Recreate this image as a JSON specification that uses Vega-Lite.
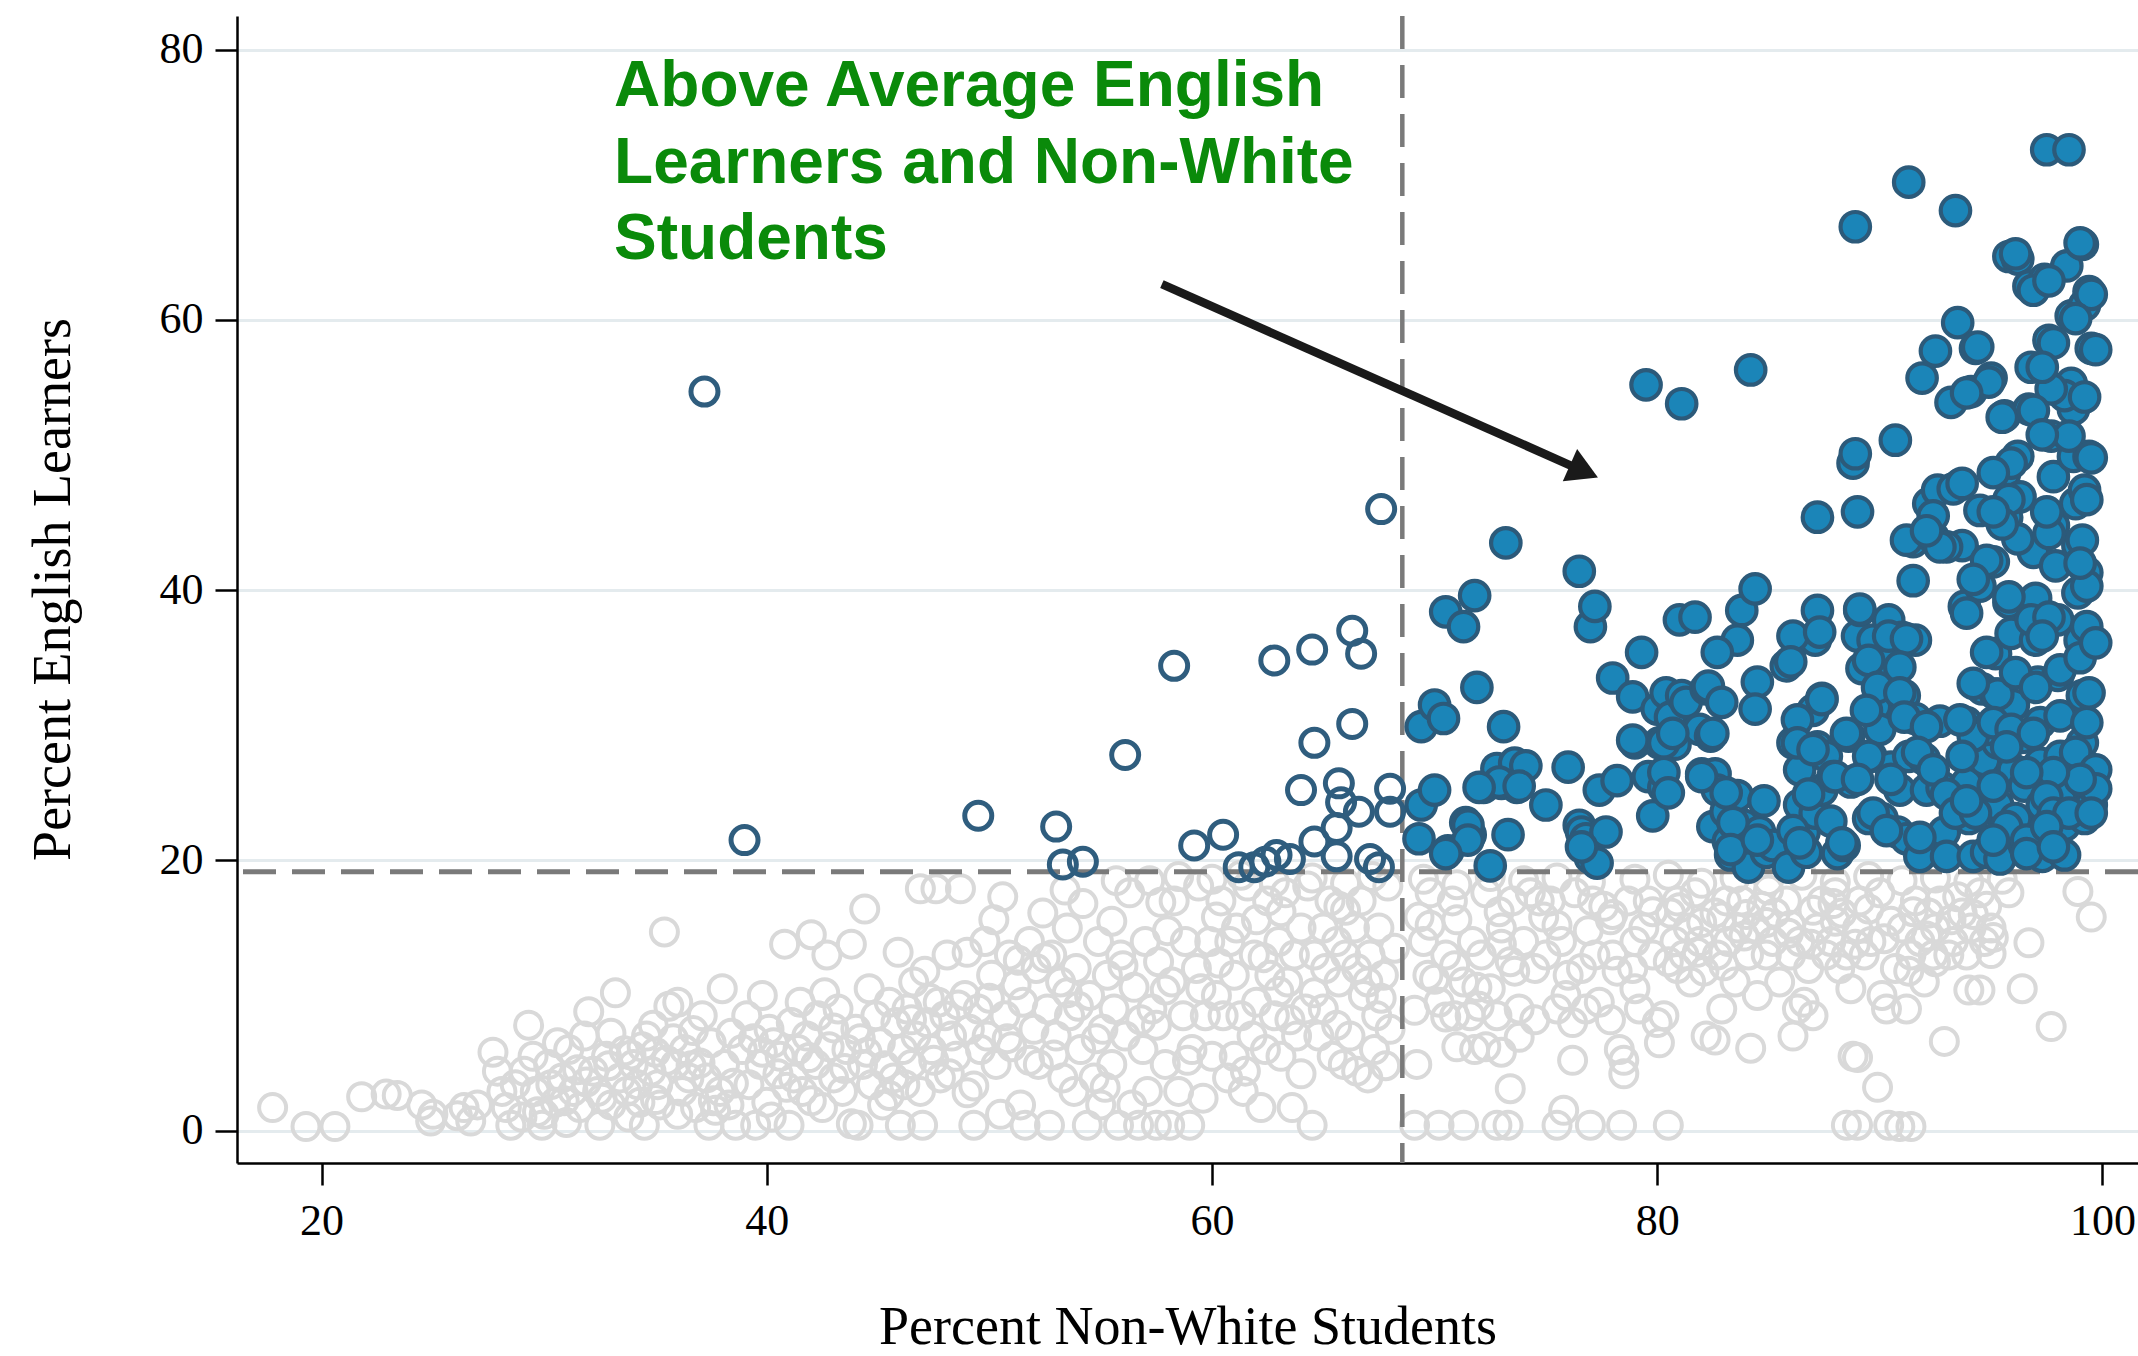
{
"$schema": "https://vega.github.io/schema/vega-lite/v6.json",
"width": 1901, "height": 1147,
"autosize": {"type": "none"},
"padding": {"left": 237, "top": 16, "right": 0, "bottom": 193},
"background": "white",
"config": {"view": {"stroke": null}},
"datasets": {
"pts": [
{"x":17.8,"y":1.7},{"x":19.3,"y":0.3},{"x":20.6,"y":0.3},{"x":21.8,"y":2.5},{"x":22.9,"y":2.7},{"x":23.4,"y":2.6},{"x":24.5,"y":1.9},{"x":24.9,"y":0.7},{"x":25,"y":1.2},{"x":26.1,"y":1.1},{"x":26.4,"y":1.7},{"x":26.7,"y":0.7},{"x":27,"y":1.9},{"x":27.7,"y":5.8},{"x":27.9,"y":4.4},{"x":28.1,"y":2.9},{"x":28.3,"y":1.7},{"x":28.5,"y":0.4},{"x":28.7,"y":3.4},{"x":29.1,"y":4.4},{"x":29.3,"y":7.8},{"x":29.6,"y":2.9},{"x":29.7,"y":1.4},{"x":29.9,"y":0.4},{"x":30.2,"y":4.9},{"x":30.3,"y":3.4},{"x":30.5,"y":2.1},{"x":30.8,"y":3.9},{"x":31.1,"y":6},{"x":31.3,"y":2.9},{"x":31.6,"y":1.7},{"x":31.8,"y":7},{"x":32,"y":8.8},{"x":32.2,"y":4.4},{"x":32.4,"y":2.9},{"x":32.5,"y":0.4},{"x":32.8,"y":5.5},{"x":33,"y":1.9},{"x":33.2,"y":10.2},{"x":33.4,"y":3.9},{"x":33.6,"y":5.9},{"x":33.7,"y":2.9},{"x":34,"y":4.9},{"x":34.2,"y":3.4},{"x":34.3,"y":2.1},{"x":34.5,"y":0.4},{"x":34.6,"y":7},{"x":34.8,"y":4.4},{"x":35,"y":5.8},{"x":35.1,"y":3.4},{"x":35.2,"y":1.9},{"x":35.4,"y":14.7},{"x":35.6,"y":9.2},{"x":35.9,"y":4.9},{"x":36,"y":9.5},{"x":36.2,"y":2.9},{"x":36.3,"y":6},{"x":36.5,"y":3.9},{"x":36.8,"y":1.7},{"x":37.1,"y":8.5},{"x":37.3,"y":3.9},{"x":37.4,"y":0.4},{"x":37.5,"y":6.5},{"x":37.9,"y":2.9},{"x":38.1,"y":4.9},{"x":38.3,"y":1.9},{"x":38.6,"y":0.4},{"x":38.9,"y":6},{"x":39.1,"y":8.5},{"x":39.2,"y":3.4},{"x":39.5,"y":0.4},{"x":39.7,"y":4.9},{"x":40,"y":2.1},{"x":40.1,"y":7.5},{"x":40.3,"y":6.5},{"x":40.6,"y":5.5},{"x":40.8,"y":13.8},{"x":41,"y":0.4},{"x":41.1,"y":8},{"x":41.2,"y":3.9},{"x":41.4,"y":6},{"x":41.6,"y":2.9},{"x":41.8,"y":7},{"x":42,"y":14.5},{"x":42.2,"y":4.9},{"x":42.3,"y":8.5},{"x":42.5,"y":1.7},{"x":42.7,"y":13},{"x":42.8,"y":6.2},{"x":43,"y":3.9},{"x":43.2,"y":9},{"x":43.4,"y":2.9},{"x":43.6,"y":6},{"x":43.8,"y":13.8},{"x":44,"y":7.5},{"x":44.1,"y":0.4},{"x":44.3,"y":4.9},{"x":44.4,"y":16.4},{"x":44.6,"y":10.5},{"x":44.7,"y":3.4},{"x":44.9,"y":8.5},{"x":45.1,"y":6.5},{"x":45.2,"y":1.9},{"x":45.5,"y":9.5},{"x":45.7,"y":3.9},{"x":45.8,"y":8},{"x":46,"y":0.4},{"x":46.1,"y":6},{"x":46.3,"y":9},{"x":46.5,"y":4.9},{"x":46.6,"y":11},{"x":46.7,"y":7},{"x":46.9,"y":2.9},{"x":47.1,"y":11.8},{"x":47.2,"y":8},{"x":47.4,"y":6},{"x":47.6,"y":17.9},{"x":47.7,"y":9.5},{"x":47.8,"y":3.9},{"x":48,"y":8.5},{"x":48.1,"y":13},{"x":48.3,"y":7},{"x":48.5,"y":5.5},{"x":48.7,"y":17.9},{"x":48.9,"y":10},{"x":49,"y":13.2},{"x":49.1,"y":7.5},{"x":49.3,"y":0.4},{"x":49.5,"y":9},{"x":49.6,"y":6},{"x":49.8,"y":14},{"x":49.9,"y":7},{"x":50.1,"y":11.5},{"x":50.3,"y":4.9},{"x":50.6,"y":17.3},{"x":50.7,"y":8.5},{"x":50.9,"y":13},{"x":51,"y":6.2},{"x":51.2,"y":10.8},{"x":51.4,"y":1.9},{"x":51.5,"y":9.5},{"x":51.6,"y":0.4},{"x":51.8,"y":14},{"x":52,"y":7.5},{"x":52.1,"y":12},{"x":52.2,"y":4.9},{"x":52.4,"y":16.1},{"x":52.6,"y":9},{"x":52.7,"y":0.4},{"x":52.8,"y":13},{"x":53,"y":7},{"x":53.2,"y":11},{"x":53.3,"y":3.9},{"x":53.5,"y":15},{"x":53.6,"y":8.5},{"x":53.8,"y":2.9},{"x":53.9,"y":12},{"x":54.1,"y":6},{"x":54.2,"y":16.8},{"x":54.4,"y":0.4},{"x":54.5,"y":10},{"x":54.7,"y":3.9},{"x":54.9,"y":14},{"x":55,"y":1.9},{"x":55.1,"y":7.5},{"x":55.3,"y":11.5},{"x":55.5,"y":4.9},{"x":55.6,"y":9},{"x":55.8,"y":0.4},{"x":55.9,"y":13},{"x":56.1,"y":7},{"x":56.3,"y":17.6},{"x":56.4,"y":1.9},{"x":56.5,"y":10.6},{"x":56.7,"y":0.4},{"x":56.9,"y":6},{"x":57,"y":14},{"x":57.1,"y":2.9},{"x":57.3,"y":9},{"x":57.5,"y":0.4},{"x":57.6,"y":12.5},{"x":57.7,"y":16.9},{"x":57.9,"y":4.9},{"x":58.1,"y":0.4},{"x":58.2,"y":11},{"x":58.3,"y":17},{"x":58.5,"y":2.9},{"x":58.7,"y":8.5},{"x":58.8,"y":14},{"x":59,"y":0.4},{"x":59.1,"y":6},{"x":59.3,"y":12},{"x":59.4,"y":18.1},{"x":59.6,"y":2.4},{"x":59.7,"y":8.5},{"x":59.9,"y":14},{"x":60,"y":5.5},{"x":60.2,"y":10},{"x":60.4,"y":17},{"x":60.5,"y":8.5},{"x":60.7,"y":3.9},{"x":60.8,"y":14},{"x":61,"y":11.5},{"x":61.1,"y":15},{"x":61.3,"y":8.5},{"x":61.4,"y":2.9},{"x":61.6,"y":18.1},{"x":61.8,"y":7},{"x":61.9,"y":13},{"x":62,"y":9.5},{"x":62.2,"y":1.7},{"x":62.4,"y":6},{"x":62.5,"y":17},{"x":62.6,"y":11.5},{"x":62.8,"y":8.5},{"x":63,"y":14},{"x":63.1,"y":5.5},{"x":63.3,"y":17.6},{"x":63.4,"y":11},{"x":63.6,"y":1.7},{"x":63.7,"y":13},{"x":63.8,"y":7},{"x":64,"y":15},{"x":64.2,"y":9},{"x":64.3,"y":18.1},{"x":64.5,"y":0.4},{"x":64.6,"y":13},{"x":64.8,"y":7},{"x":65,"y":15},{"x":65.1,"y":12},{"x":65.3,"y":17},{"x":65.4,"y":5.5},{"x":65.6,"y":14},{"x":65.7,"y":11},{"x":65.9,"y":4.9},{"x":66,"y":13},{"x":66.2,"y":7},{"x":66.4,"y":15},{"x":66.5,"y":4.4},{"x":66.7,"y":17},{"x":66.8,"y":10},{"x":67,"y":3.9},{"x":67.1,"y":13},{"x":67.3,"y":6},{"x":67.4,"y":8.5},{"x":67.5,"y":15},{"x":67.7,"y":11.5},{"x":67.9,"y":18.1},{"x":68,"y":7.5},
{"x":69.1,"y":0.4},{"x":69.2,"y":4.9},{"x":69.1,"y":8.9},{"x":69.5,"y":14},{"x":69.7,"y":11.5},{"x":69.8,"y":17.6},{"x":71,"y":6.2},{"x":70.2,"y":9.5},{"x":70.2,"y":0.4},{"x":70.5,"y":13},{"x":70.5,"y":8.4},{"x":70.8,"y":17},{"x":70.9,"y":8.5},{"x":71.8,"y":6},{"x":71.3,"y":11},{"x":71.3,"y":0.4},{"x":71.6,"y":8.5},{"x":71.7,"y":14},{"x":72.3,"y":6.2},{"x":72.1,"y":13},{"x":73,"y":5.8},{"x":72.3,"y":17.6},{"x":72.5,"y":10.5},{"x":72.8,"y":0.4},{"x":72.8,"y":8.5},{"x":73,"y":15},{"x":73.8,"y":6.9},{"x":73.3,"y":0.4},{"x":73.4,"y":3.1},{"x":73.4,"y":12.5},{"x":73.5,"y":17},{"x":73.8,"y":9},{"x":74,"y":14},{"x":74.3,"y":17.6},{"x":74.5,"y":12},{"x":74.7,"y":17},{"x":75,"y":13},{"x":75.2,"y":17},{"x":75.5,"y":0.4},{"x":75.5,"y":9},{"x":75.7,"y":14},{"x":75.8,"y":1.5},{"x":75.9,"y":10},{"x":76.2,"y":5.2},{"x":76.2,"y":8},{"x":76.3,"y":17.6},{"x":76.6,"y":12},{"x":76.8,"y":9},{"x":77,"y":0.4},{"x":77.1,"y":17},{"x":77.2,"y":13},{"x":77.4,"y":9.5},{"x":77.6,"y":16.6},{"x":77.9,"y":8.2},{"x":78,"y":13},{"x":78.2,"y":11.8},{"x":78.3,"y":6},{"x":78.4,"y":0.4},{"x":78.5,"y":5.2},{"x":78.5,"y":4.2},{"x":78.7,"y":17},{"x":78.9,"y":12},{"x":79,"y":14},{"x":79.2,"y":9},{"x":79.4,"y":15},{"x":79.6,"y":17},{"x":79.8,"y":13},{"x":80,"y":8},{"x":80.1,"y":6.5},{"x":80.3,"y":8.5},{"x":80.5,"y":0.4},{"x":80.6,"y":16.1},{"x":80.8,"y":14},{"x":80.9,"y":17},{"x":81.2,"y":13},{"x":81.4,"y":15},{"x":81.5,"y":11},{"x":81.7,"y":17.6},{"x":81.9,"y":14},{"x":82.1,"y":11.8},{"x":82.2,"y":7},{"x":82.6,"y":6.7},{"x":82.6,"y":16.1},{"x":82.7,"y":13},{"x":82.9,"y":9},{"x":83.1,"y":17},{"x":83.2,"y":14},{"x":83.5,"y":11},{"x":83.6,"y":15},{"x":83.8,"y":17},{"x":84.1,"y":13},{"x":84.2,"y":6.1},{"x":84.4,"y":15},{"x":84.5,"y":10},{"x":84.7,"y":16.6},{"x":84.9,"y":13},{"x":85.2,"y":14},{"x":85.3,"y":16.1},{"x":85.5,"y":11},{"x":85.8,"y":17},{"x":86,"y":13},{"x":86.1,"y":7},{"x":86.3,"y":9},{"x":86.4,"y":14},{"x":86.6,"y":9.5},{"x":86.8,"y":12},{"x":87,"y":8.5},{"x":87.2,"y":15},{"x":87.4,"y":17},{"x":87.6,"y":13},{"x":87.8,"y":14},{"x":88,"y":17.6},{"x":88.2,"y":12},{"x":88.3,"y":16.1},{"x":88.5,"y":0.4},{"x":88.5,"y":13},{"x":88.7,"y":10.5},{"x":88.8,"y":5.5},{"x":89,"y":0.4},{"x":89,"y":15},{"x":89.1,"y":17},{"x":89.3,"y":13},{"x":89,"y":5.4},{"x":89.9,"y":3.2},{"x":90.4,"y":0.4},{"x":89.6,"y":14},{"x":90,"y":17.6},{"x":90.1,"y":10},{"x":90.3,"y":9},{"x":90.7,"y":12},{"x":90.9,"y":0.3},{"x":91.4,"y":0.3},{"x":91,"y":15},{"x":91.2,"y":9},{"x":91.4,"y":13},{"x":91.6,"y":17},{"x":91.8,"y":14},{"x":92,"y":11},{"x":92.2,"y":16.1},{"x":92.4,"y":13},{"x":92.5,"y":15},{"x":92.7,"y":17},{"x":92.9,"y":6.6},{"x":93.1,"y":13},{"x":93.3,"y":14},{"x":94,"y":10.4},{"x":94.5,"y":10.4},{"x":93.7,"y":16.1},{"x":93.9,"y":13},{"x":94.1,"y":15},{"x":94.5,"y":17.6},{"x":94.7,"y":14},{"x":95,"y":15},{"x":95.1,"y":14.3},{"x":95,"y":13.1},{"x":96.7,"y":13.9},{"x":96.4,"y":10.5},{"x":97.7,"y":7.7},{"x":98.9,"y":17.7},{"x":99.5,"y":15.8},
{"x":29,"y":1},{"x":29.5,"y":5.5},{"x":30,"y":1.2},{"x":30.6,"y":6.5},{"x":31,"y":0.6},{"x":31.5,"y":4.5},{"x":32.6,"y":2.4},{"x":33,"y":7.2},{"x":33.8,"y":1},{"x":34.4,"y":6.2},{"x":35,"y":2.3},{"x":35.5,"y":5.2},{"x":36,"y":1.2},{"x":36.7,"y":7.4},{"x":37,"y":5},{"x":37.7,"y":1.5},{"x":38.5,"y":3.5},{"x":39.4,"y":6.8},{"x":40.2,"y":1},{"x":40.5,"y":4.2},{"x":41.5,"y":9.5},{"x":42,"y":2.2},{"x":43,"y":7.6},{"x":43.8,"y":0.5},{"x":44.5,"y":5.8},{"x":45.5,"y":2.6},{"x":46.5,"y":8.2},{"x":47,"y":0.4},{"x":47.5,"y":5.2},{"x":48.6,"y":9.3},{"x":49,"y":2.8},{"x":50,"y":9.8},{"x":50.5,"y":1.2},{"x":51.8,"y":5.2},{"x":52.5,"y":12.8},{"x":53.5,"y":10.2},{"x":54.8,"y":6.8},{"x":55.5,"y":15.5},{"x":56,"y":12.2},{"x":57.5,"y":7.8},{"x":58,"y":14.8},{"x":59.5,"y":10.5},{"x":60.2,"y":15.8},{"x":61,"y":5.5},{"x":62,"y":15.6},{"x":63,"y":10.3},{"x":64,"y":4.2},{"x":65,"y":9},{"x":66,"y":16.3},{"x":67,"y":11},{"x":67.8,"y":4.8},{"x":68.2,"y":13.5},{"x":69.3,"y":15.8},{"x":70,"y":11.2},{"x":71,"y":15.6},{"x":72,"y":9.2},{"x":73,"y":13.8},{"x":74.5,"y":8.2},{"x":75.5,"y":15.2},{"x":76,"y":11.5},{"x":78,"y":16},{"x":79,"y":10.5},{"x":80.5,"y":12.5},{"x":81,"y":16.5},{"x":82,"y":15.4},{"x":83,"y":12.2},{"x":84,"y":16},{"x":85,"y":17.8},{"x":86,"y":15.2},{"x":87,"y":16.3},{"x":88,"y":15.5},{"x":89.5,"y":16.4},{"x":90.5,"y":15.5},{"x":91.5,"y":16.2},{"x":92.5,"y":12.5},{"x":93.5,"y":17.3},{"x":94.2,"y":16},
{"x":57.2,"y":18.5},{"x":58.5,"y":18.8},{"x":60,"y":18.6},{"x":61.3,"y":18.9},{"x":62.8,"y":18.4},{"x":64.5,"y":18.7},{"x":66,"y":18.3},{"x":67.2,"y":18.8},{"x":69.5,"y":18.6},{"x":71,"y":18.2},{"x":72.5,"y":18.8},{"x":74,"y":18.5},{"x":75.5,"y":18.7},{"x":77,"y":18.4},{"x":79,"y":18.6},{"x":80.5,"y":18.9},{"x":82,"y":18.3},{"x":83.5,"y":18.7},{"x":85,"y":18.5},{"x":86.5,"y":18.9},{"x":88,"y":18.4},{"x":89.5,"y":18.8},{"x":91,"y":18.5},{"x":92.5,"y":18.7},{"x":94,"y":18.4},{"x":95.5,"y":18.6},
{"x":30.9,"y":2.2},{"x":31.9,"y":3.6},{"x":32.9,"y":4.8},{"x":33.9,"y":5.6},{"x":34.9,"y":7.8},{"x":35.8,"y":6.8},{"x":36.6,"y":4.8},{"x":37.6,"y":2.2},{"x":38.4,"y":7.2},{"x":39.8,"y":5.8},{"x":40.9,"y":3.2},{"x":41.9,"y":5.4},{"x":42.6,"y":10.2},{"x":43.5,"y":4.6},{"x":44.2,"y":6.8},{"x":45.3,"y":4.8},{"x":46.2,"y":3.4},{"x":47.3,"y":9.8},{"x":48.2,"y":4.2},{"x":49.3,"y":3.3},{"x":50.8,"y":6.8},{"x":51.3,"y":12.6},{"x":52.9,"y":5.6},{"x":54,"y":9.2},{"x":55.2,"y":3.2},{"x":56.8,"y":8.2},{"x":57.9,"y":10.4},{"x":58.9,"y":5.2},{"x":60.3,"y":12.4},{"x":61.5,"y":4.4},{"x":62.3,"y":12.8},{"x":63.5,"y":8.2},{"x":64.6,"y":10.2},{"x":65.6,"y":7.8},{"x":66.5,"y":12},{"x":67.6,"y":9.8},{"x":38,"y":10.5},{"x":39.8,"y":10},{"x":45.9,"y":13.2},{"x":50.2,"y":15.6},{"x":53.4,"y":17.8},{"x":55.7,"y":18.5},{"x":46.9,"y":17.9},{"x":63.1,"y":16.2},{"x":65.7,"y":16.6},
{"x":69.8,"y":15.2},{"x":70.9,"y":12.2},{"x":71.9,"y":10.6},{"x":72.9,"y":16.2},{"x":73.6,"y":11.8},{"x":74.9,"y":15.8},{"x":76.9,"y":14.8},{"x":77.9,"y":15.6},{"x":79.8,"y":16.2},{"x":80.9,"y":12},{"x":81.8,"y":13.2},{"x":82.9,"y":15.8},{"x":83.9,"y":14.4},{"x":84.9,"y":15.4},{"x":85.9,"y":14.6},{"x":86.9,"y":13.8},{"x":87.9,"y":16.8},{"x":88.9,"y":13.8},{"x":90.2,"y":14.2},{"x":91.3,"y":11.8},{"x":92.1,"y":14.4},{"x":93.2,"y":15.6},{"x":94.8,"y":16.6},{"x":95.8,"y":17.6},
{"x":37.2,"y":54.7},{"x":39,"y":21.5},{"x":49.5,"y":23.3},{"x":53,"y":22.5},{"x":53.3,"y":19.7},{"x":54.2,"y":19.9},{"x":56.1,"y":27.8},{"x":58.3,"y":34.4},{"x":59.2,"y":21.1},{"x":60.5,"y":21.9},{"x":61.2,"y":19.5},{"x":61.9,"y":19.5},{"x":62.4,"y":19.9},{"x":62.9,"y":20.4},{"x":63.5,"y":20.1},{"x":62.8,"y":34.8},{"x":64.5,"y":35.6},{"x":64,"y":25.2},{"x":64.6,"y":28.7},{"x":64.6,"y":21.4},{"x":65.6,"y":22.4},{"x":65.7,"y":25.7},{"x":65.8,"y":24.3},{"x":65.6,"y":20.3},{"x":66.3,"y":37},{"x":66.7,"y":35.3},{"x":66.3,"y":30.1},{"x":66.6,"y":23.6},{"x":67.6,"y":46},{"x":67.1,"y":20.1},{"x":67.5,"y":19.5},{"x":68,"y":23.6},{"x":68,"y":25.3},
{"x":69.4,"y":29.9},{"x":69.4,"y":24.1},{"x":69.3,"y":21.6},{"x":70,"y":25.2},{"x":70,"y":31.5},{"x":70.5,"y":38.4},{"x":70.4,"y":30.5},{"x":70.6,"y":20.7},{"x":71.3,"y":37.3},{"x":71.8,"y":39.6},{"x":71.4,"y":22.8},{"x":71.6,"y":21.9},{"x":71.9,"y":32.8},{"x":72.2,"y":25.4},{"x":72.5,"y":19.6},{"x":72.8,"y":26.8},{"x":73,"y":25.7},{"x":73.2,"y":43.5},{"x":73.1,"y":29.9},{"x":73.3,"y":21.9},{"x":73.6,"y":27.2},{"x":73.7,"y":25.4},{"x":74.1,"y":27},{"x":75,"y":24.1},{"x":76,"y":26.9},{"x":76.5,"y":41.4},{"x":77,"y":37.3},{"x":77.2,"y":38.8},{"x":76.5,"y":22.6},{"x":76.6,"y":22.1},{"x":77,"y":20.2},{"x":76.8,"y":21.6},{"x":77.4,"y":25.2},{"x":77.7,"y":22.1},{"x":78,"y":33.5},{"x":78.2,"y":25.9},{"x":78.9,"y":32.1},{"x":79,"y":28.7},{"x":79.3,"y":35.4},{"x":79.5,"y":55.2},{"x":79.6,"y":26.2},{"x":79.8,"y":23.3},{"x":80,"y":31.2},{"x":80.1,"y":28.7},{"x":80.3,"y":25.4},{"x":80.4,"y":32.4},{"x":80.6,"y":30.6},{"x":81,"y":37.8},{"x":81.1,"y":53.8},{"x":80.8,"y":28.6},{"x":81.1,"y":32.2},{"x":81.3,"y":31.7},{"x":81.7,"y":38},{"x":81.9,"y":29.7},{"x":82,"y":26.4},{"x":82.2,"y":32.7},{"x":82.3,"y":32.9},{"x":82.4,"y":29.2},{"x":82.6,"y":26.4},{"x":82.5,"y":22.5},{"x":82.7,"y":25.2},{"x":82.9,"y":31.7},{"x":83.1,"y":23.6},{"x":83.2,"y":21.4},{"x":83.3,"y":20.4},{"x":83.6,"y":36.3},{"x":83.6,"y":24.8},{"x":83.8,"y":38.5},{"x":83.9,"y":22.6},{"x":84.2,"y":56.3},{"x":84.4,"y":40.1},{"x":84.5,"y":33.2},{"x":84.4,"y":31.2},{"x":84.1,"y":19.5},{"x":84.6,"y":22.1},{"x":84.8,"y":24.4},{"x":84.9,"y":20.6},{"x":85.2,"y":21.1},{"x":85.9,"y":19.5},{"x":85.8,"y":34.4},{"x":86.1,"y":28.7},{"x":86.3,"y":36.3},{"x":86.4,"y":26.7},{"x":86.4,"y":24.1},{"x":86.6,"y":22.1},{"x":86.7,"y":20.6},{"x":87,"y":31.1},{"x":87.2,"y":45.4},{"x":87.2,"y":38.5},{"x":87.1,"y":36.3},{"x":87.1,"y":23.5},{"x":87.2,"y":28.4},{"x":87.4,"y":32},{"x":87.4,"y":25.2},{"x":87.6,"y":27.7},{"x":87.8,"y":22.9},{"x":88.1,"y":20.5},{"x":87.9,"y":26.2},{"x":88.4,"y":21.1},{"x":88.6,"y":29.2},{"x":88.7,"y":25.8},{"x":88.8,"y":49.4},{"x":88.9,"y":50.1},{"x":88.9,"y":66.9},{"x":89,"y":45.8},{"x":89,"y":36.6},{"x":89.1,"y":38.5},{"x":89.2,"y":34.2},{"x":89.5,"y":23.1},{"x":89.6,"y":27.7},{"x":89.7,"y":36.3},{"x":89.8,"y":31.4},{"x":90,"y":29.7},{"x":90.1,"y":23.1},{"x":90.3,"y":34.7},{"x":90.4,"y":37.8},{"x":90.5,"y":26.9},{"x":90.7,"y":51.1},{"x":90.8,"y":22.1},{"x":90.9,"y":25.2},{"x":91,"y":36.5},{"x":91.1,"y":32.2},{"x":91.2,"y":21.6},{"x":91.3,"y":27.7},{"x":91.3,"y":70.2},{"x":91.5,"y":40.7},{"x":91.5,"y":43.6},{"x":91.6,"y":36.3},{"x":91.6,"y":30.5},{"x":91.8,"y":20.3},{"x":91.9,"y":55.7},{"x":92,"y":27.5},{"x":92.1,"y":25.2},{"x":92.2,"y":46.4},{"x":92.4,"y":43.9},{"x":92.5,"y":57.7},{"x":92.6,"y":47.4},{"x":92.7,"y":30.3},{"x":92.8,"y":25.4},{"x":92.9,"y":22.1},{"x":93,"y":20.3},{"x":93.2,"y":53.9},{"x":93.4,"y":68.1},{"x":93.5,"y":59.8},{"x":93.6,"y":47.8},{"x":93.7,"y":43.3},{"x":93.8,"y":38.8},{"x":93.9,"y":30.2},{"x":93.9,"y":25.7},{"x":94,"y":23.1},{"x":94.2,"y":20.3},{"x":94.1,"y":54.7},{"x":94.3,"y":57.9},{"x":94.5,"y":45.9},{"x":94.5,"y":40.3},{"x":94.6,"y":32.7},{"x":94.7,"y":27.4},{"x":94.8,"y":23.9},{"x":94.8,"y":20.6},{"x":95,"y":55.7},{"x":95.1,"y":42.1},{"x":95.2,"y":35.3},{"x":95.2,"y":32.3},{"x":95.3,"y":28.7},{"x":95.3,"y":24.1},{"x":95.4,"y":20.1},{"x":95.6,"y":48.6},{"x":95.6,"y":52.9},{"x":95.7,"y":45.4},{"x":95.8,"y":39.1},{"x":95.8,"y":64.7},{"x":95.9,"y":36.8},{"x":96,"y":31.5},{"x":96,"y":26.7},{"x":96.1,"y":23.1},{"x":96.2,"y":64.5},{"x":96.2,"y":49.9},{"x":96.3,"y":46.9},{"x":96.4,"y":29.1},{"x":96.5,"y":25.5},{"x":96.5,"y":21.1},{"x":96.7,"y":62.5},{"x":96.7,"y":53.4},{"x":96.8,"y":56.5},{"x":96.9,"y":42.8},{"x":97,"y":39.4},{"x":97,"y":36.3},{"x":97.1,"y":33.2},{"x":97.2,"y":30.2},{"x":97.2,"y":27.2},{"x":97.3,"y":24.1},{"x":97.3,"y":20.3},{"x":97.4,"y":63},{"x":97.5,"y":72.6},{"x":97.6,"y":58.5},{"x":97.7,"y":51.4},{"x":97.8,"y":48.4},{"x":97.8,"y":44.8},{"x":97.9,"y":41.8},{"x":98,"y":37.8},{"x":98,"y":33.7},{"x":98.1,"y":30.7},{"x":98.1,"y":27.7},{"x":98.2,"y":25.2},{"x":98.3,"y":22.6},{"x":98.3,"y":20.4},{"x":98.4,"y":64},{"x":98.5,"y":72.6},{"x":98.6,"y":60.3},{"x":98.6,"y":55.3},{"x":98.7,"y":53.4},{"x":98.7,"y":49.9},{"x":98.8,"y":46.4},{"x":98.9,"y":43.3},{"x":98.9,"y":39.8},{"x":99,"y":36.3},{"x":99.1,"y":32.2},{"x":99.1,"y":28.7},{"x":99.2,"y":25.7},{"x":99.2,"y":23.1},{"x":99.1,"y":65.6},{"x":99.2,"y":61.1},{"x":99.4,"y":62.1},{"x":99.5,"y":57.9},{"x":99.4,"y":49.9},{"x":99.2,"y":47.4},{"x":99.3,"y":41.3},{"x":99.3,"y":37.3},{"x":99.3,"y":30.2},{"x":99.4,"y":25.2},{"x":99.5,"y":24.1},{"x":99.6,"y":25.4},{"x":98.3,"y":54.4},{"x":98.5,"y":51.4},{"x":97.7,"y":54.9},{"x":96.8,"y":37.8},{"x":96.2,"y":43.8},{"x":95.3,"y":32.3},{"x":94.8,"y":29.7},{"x":94.2,"y":29.2},{"x":93.7,"y":27.7},{"x":94,"y":24.1},
{"x":82.7,"y":35.4},{"x":78.9,"y":28.9},{"x":80.3,"y":28.7},{"x":80.7,"y":29.4},{"x":82.5,"y":29.4},{"x":80.3,"y":26.5},{"x":80.5,"y":25},{"x":82,"y":26.2},{"x":83.1,"y":25},{"x":83.4,"y":22.8},{"x":83.3,"y":20.8},{"x":84.5,"y":21.5},{"x":72.9,"y":25.8},{"x":73.8,"y":25.5},{"x":72,"y":25.4},{"x":71.5,"y":22.6},{"x":71.5,"y":21.5},{"x":70.5,"y":20.5},{"x":77.3,"y":19.8},{"x":76.6,"y":21},{"x":86.1,"y":36.6},{"x":87.3,"y":36.9},{"x":86,"y":34.7},{"x":87.4,"y":31.9},{"x":86.3,"y":30.4},{"x":86.3,"y":28.7},{"x":87,"y":28.2},{"x":88.5,"y":29.4},{"x":88,"y":26.2},{"x":86.8,"y":24.9},{"x":86.1,"y":22.2},{"x":86.4,"y":21.3},{"x":88.3,"y":21.3},{"x":89.5,"y":27.7},{"x":89,"y":26},{"x":90.5,"y":26},{"x":89.7,"y":23.5},{"x":90.3,"y":22.2},{"x":91.8,"y":21.7},{"x":89.1,"y":38.6},{"x":90.4,"y":36.6},{"x":91.2,"y":36.4},{"x":89.5,"y":34.8},{"x":90.9,"y":34.3},{"x":89.9,"y":32.8},{"x":89.4,"y":31.1},{"x":90.9,"y":32.4},{"x":91.1,"y":30.6},{"x":92.1,"y":29.9},{"x":91.7,"y":28},{"x":92.4,"y":26.7},{"x":93,"y":24.9},{"x":93.4,"y":23.5},{"x":91.2,"y":43.7},{"x":93,"y":43.2},{"x":92.4,"y":45.5},{"x":93.3,"y":47.5},{"x":94.8,"y":42.2},{"x":94.2,"y":40.8},{"x":93.9,"y":38.3},{"x":95.8,"y":39.5},{"x":97.6,"y":38},{"x":99.3,"y":40.3},{"x":94.8,"y":35.4},{"x":94.2,"y":33.1},{"x":96.1,"y":33.9},{"x":97,"y":32.8},{"x":93.6,"y":30.4},{"x":95.1,"y":30.2},{"x":95.9,"y":29.7},{"x":96.9,"y":29.4},{"x":95.7,"y":28.4},{"x":98.1,"y":34.1},{"x":99,"y":35},{"x":99.7,"y":36.1},{"x":99.4,"y":32.4},{"x":97.3,"y":36.6},{"x":98.8,"y":28},{"x":99.7,"y":26.7},{"x":99.7,"y":25.3},{"x":99,"y":26},{"x":97.8,"y":26.5},{"x":97.5,"y":24.7},{"x":97.8,"y":23.5},{"x":98.5,"y":23.5},{"x":99.5,"y":23.5},{"x":95.7,"y":22.5},{"x":96.6,"y":21.5},{"x":95.1,"y":21.5},{"x":94.3,"y":23.5},{"x":93.9,"y":24.4},{"x":95.1,"y":25.5},{"x":96.6,"y":26.5},{"x":97.5,"y":22.5},{"x":96.6,"y":20.5},{"x":97.8,"y":21},{"x":99.3,"y":46.7},{"x":99.1,"y":43.7},{"x":99,"y":42},{"x":97.6,"y":44.2},{"x":97.5,"y":45.8},{"x":95.8,"y":46.7},{"x":95.5,"y":44.9},{"x":95.1,"y":45.8},{"x":92.7,"y":43.2},{"x":92.1,"y":44.4},{"x":96.1,"y":64.9},{"x":99,"y":65.7},{"x":96.9,"y":62.2},{"x":97.6,"y":62.9},{"x":99.5,"y":61.9},{"x":98.8,"y":60.1},{"x":94.4,"y":58},{"x":94.9,"y":55.4},{"x":93.9,"y":54.6},{"x":97.8,"y":58.3},{"x":99.7,"y":57.8},{"x":97.3,"y":56.5},{"x":99.2,"y":54.3},{"x":95.5,"y":52.8},{"x":96.9,"y":53.3},{"x":97.3,"y":51.5},{"x":99.5,"y":49.8},{"x":95.9,"y":49.4},{"x":95.1,"y":48.7},{"x":93.7,"y":47.9}
]
},
"layer": [
{
"data": {"name": "pts"},
"transform": [{"filter": "datum.y < 19.3"}],
"mark": {"type": "point", "shape": "circle", "filled": false, "stroke": "#d9d9d9", "strokeWidth": 4, "size": 729, "opacity": 1},
"encoding": {
"x": {"field": "x", "type": "quantitative",
"scale": {"domain": [16.2, 101.6], "nice": false, "zero": false},
"axis": {"title": "Percent Non-White Students", "values": [20, 40, 60, 80, 100], "grid": false,
"domainColor": "black", "domainWidth": 2.5, "tickColor": "black", "tickWidth": 2.5, "tickSize": 22,
"labelFont": "Liberation Serif", "labelFontSize": 44, "labelColor": "black", "labelPadding": 14, "labelFlush": false, "labelOverlap": false,
"titleFont": "Liberation Serif", "titleFontSize": 54, "titleFontWeight": "normal", "titleColor": "black",
"titleY": 180, "titleBaseline": "alphabetic"}},
"y": {"field": "y", "type": "quantitative",
"scale": {"domain": [-2.4, 82.5], "nice": false, "zero": false},
"axis": {"title": "Percent English Learners", "values": [0, 20, 40, 60, 80], "grid": true, "gridColor": "#e4ebee", "gridWidth": 3,
"domainColor": "black", "domainWidth": 2.5, "tickColor": "black", "tickWidth": 2.5, "tickSize": 22,
"labelFont": "Liberation Serif", "labelFontSize": 44, "labelColor": "black", "labelPadding": 12, "labelFlush": false, "labelOverlap": false,
"titleFont": "Liberation Serif", "titleFontSize": 54, "titleFontWeight": "normal", "titleColor": "black",
"titleX": -168, "titleY": 573, "titleAngle": 270, "titleAlign": "center", "titleBaseline": "alphabetic"}}
}
},
{
"data": {"values": [{}]},
"mark": {"type": "rule", "stroke": "#7a7a7a", "strokeWidth": 5, "strokeDash": [33, 16]},
"encoding": {"y": {"datum": 19.15}}
},
{
"data": {"values": [{}]},
"mark": {"type": "rule", "stroke": "#7a7a7a", "strokeWidth": 4.5, "strokeDash": [33, 16]},
"encoding": {"x": {"datum": 68.55}}
},
{
"data": {"name": "pts"},
"transform": [{"filter": "datum.y >= 19.3 && datum.x < 68.5"}],
"mark": {"type": "point", "shape": "circle", "filled": false, "stroke": "#2f5d7e", "strokeWidth": 5, "size": 729, "opacity": 1},
"encoding": {"x": {"field": "x", "type": "quantitative"}, "y": {"field": "y", "type": "quantitative"}}
},
{
"data": {"name": "pts"},
"transform": [{"filter": "datum.y >= 19.3 && datum.x >= 68.5"}],
"mark": {"type": "point", "shape": "circle", "filled": true, "fill": "#1b85b8", "stroke": "#2c5a7a", "strokeWidth": 4.2, "size": 870, "opacity": 1, "fillOpacity": 1, "strokeOpacity": 1},
"encoding": {"x": {"field": "x", "type": "quantitative"}, "y": {"field": "y", "type": "quantitative"}}
},
{
"data": {"values": [{}]},
"mark": {"type": "rule", "color": "#1a1a1a", "strokeWidth": 8.5, "strokeCap": "butt"},
"encoding": {"x": {"datum": 57.75}, "y": {"datum": 62.65}, "x2": {"datum": 76.5}, "y2": {"datum": 48.95}}
},
{
"data": {"values": [{}]},
"mark": {"type": "point", "shape": "triangle-right", "filled": true, "color": "#1a1a1a", "size": 1250, "angle": 23.9, "opacity": 1, "strokeWidth": 0},
"encoding": {"x": {"datum": 76.71}, "y": {"datum": 48.8}}
},
{
"data": {"values": [{}]},
"mark": {"type": "text", "align": "left", "baseline": "alphabetic", "font": "Liberation Sans", "fontWeight": "bold", "fontSize": 64, "lineHeight": 76.5, "color": "#0a8a0a"},
"encoding": {"x": {"datum": 33.14}, "y": {"datum": 75.83}, "text": {"value": ["Above Average English", "Learners and Non-White", "Students"]}}
}
]
}
